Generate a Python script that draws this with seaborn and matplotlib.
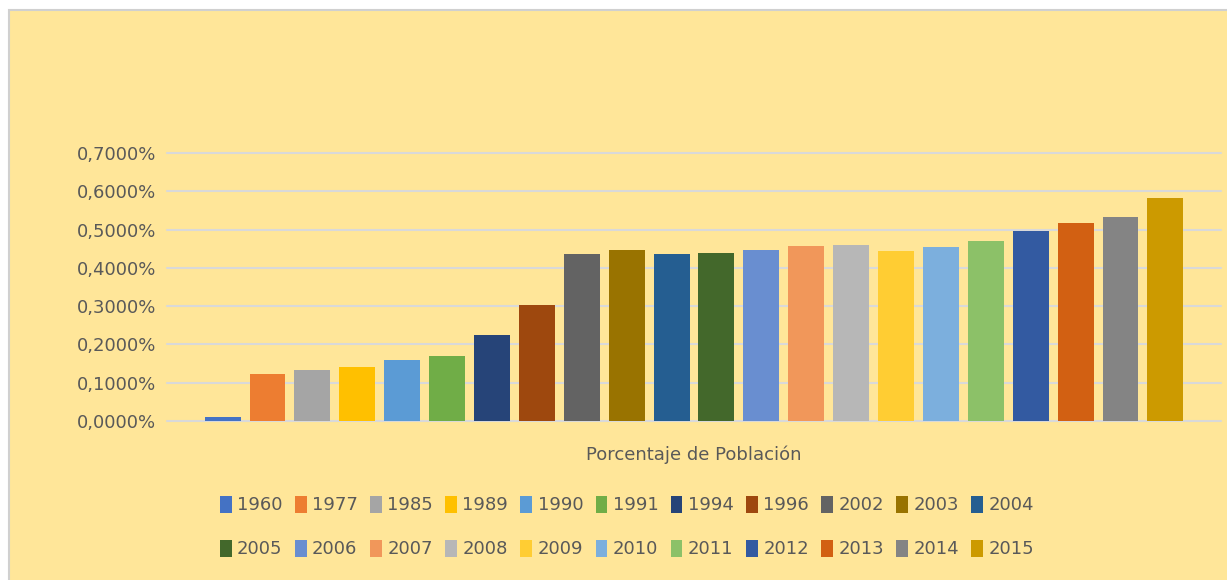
import pandas as pd
import seaborn as sns
from matplotlib import pyplot as plt
from matplotlib.patches import Rectangle
from matplotlib.ticker import FuncFormatter

# Data (percent of population)
years = ["1960", "1977", "1985", "1989", "1990", "1991", "1994", "1996", "2002", "2003", "2004",
         "2005", "2006", "2007", "2008", "2009", "2010", "2011", "2012", "2013", "2014", "2015"]
values = [0.0097, 0.1223, 0.1327, 0.1406, 0.1589, 0.1694, 0.2243, 0.3029, 0.4364, 0.4468, 0.4364,
          0.4390, 0.4468, 0.4573, 0.4599, 0.4442, 0.4547, 0.4704, 0.4966, 0.5175, 0.5332, 0.5829]
colors = ["#4472C4", "#ED7D31", "#A5A5A5", "#FFC000", "#5B9BD5", "#70AD47", "#264478", "#9E480E",
          "#636363", "#997300", "#255E91", "#43682B", "#698ED0", "#F1975A", "#B7B7B7", "#FFCD33",
          "#7CAFDD", "#8CC168", "#335AA1", "#D26012", "#848484", "#CC9A00"]
category = "Porcentaje de Población"

df = pd.DataFrame({"Serie": category, "Año": years, "Valor": values})

sns.set_style("white")
plt.rcParams['font.family'] = ['DejaVu Sans']
text_color = "#595959"
bg = "#FFE699"

fig = plt.figure(figsize=(12.27, 5.8), dpi=100, facecolor="white")
# chart area with thin grey border
fig.patches.append(Rectangle((9 / 1227, -0.01), 1, 1.01 - 10 / 580, transform=fig.transFigure,
                             facecolor=bg, edgecolor="#D0D0D0", linewidth=1.5, zorder=-5))

ax = fig.add_axes([167 / 1227, 159 / 580, (1221 - 167) / 1227, (421 - 153) / 580])
ax.patch.set_alpha(0)

sns.barplot(data=df, x="Serie", y="Valor", hue="Año", palette=colors, width=0.937, gap=0.2,
            saturation=1, ax=ax, legend=True, linewidth=0)

ax.set_xlim(-0.5, 0.5)
ax.set_ylim(0, 0.7)
ax.set_yticks([i / 10 for i in range(8)])
ax.yaxis.set_major_formatter(FuncFormatter(lambda v, p: f"{v:.4f}%".replace(".", ",")))
ax.grid(axis="y", color="#D9D9D9", linewidth=1.5)
for gl in ax.get_ygridlines():
    gl.set_clip_on(False)
ax.set_axisbelow(True)
for s in ax.spines.values():
    s.set_visible(False)
ax.tick_params(axis="both", length=0, labelsize=13, colors=text_color, pad=8)
ax.tick_params(axis="x", pad=18)
ax.set_xlabel("")
ax.set_ylabel("")

handles, labels = ax.get_legend_handles_labels()
ax.legend_.remove()
for h in handles:
    h.set_edgecolor("none")
# legend fills column by column; reorder so it reads row by row
order = [k for j in range(11) for k in (j, j + 11)]
fig.legend([handles[k] for k in order], [labels[k] for k in order], ncol=11, loc="center",
           bbox_to_anchor=(627 / 1227, 1 - 527 / 580), frameon=False, fontsize=13,
           labelcolor=text_color, handlelength=0.65, handleheight=1.1,
           handletextpad=0.3, columnspacing=0.68, labelspacing=1.4)

plt.savefig("out.png", dpi=100, facecolor="white")
